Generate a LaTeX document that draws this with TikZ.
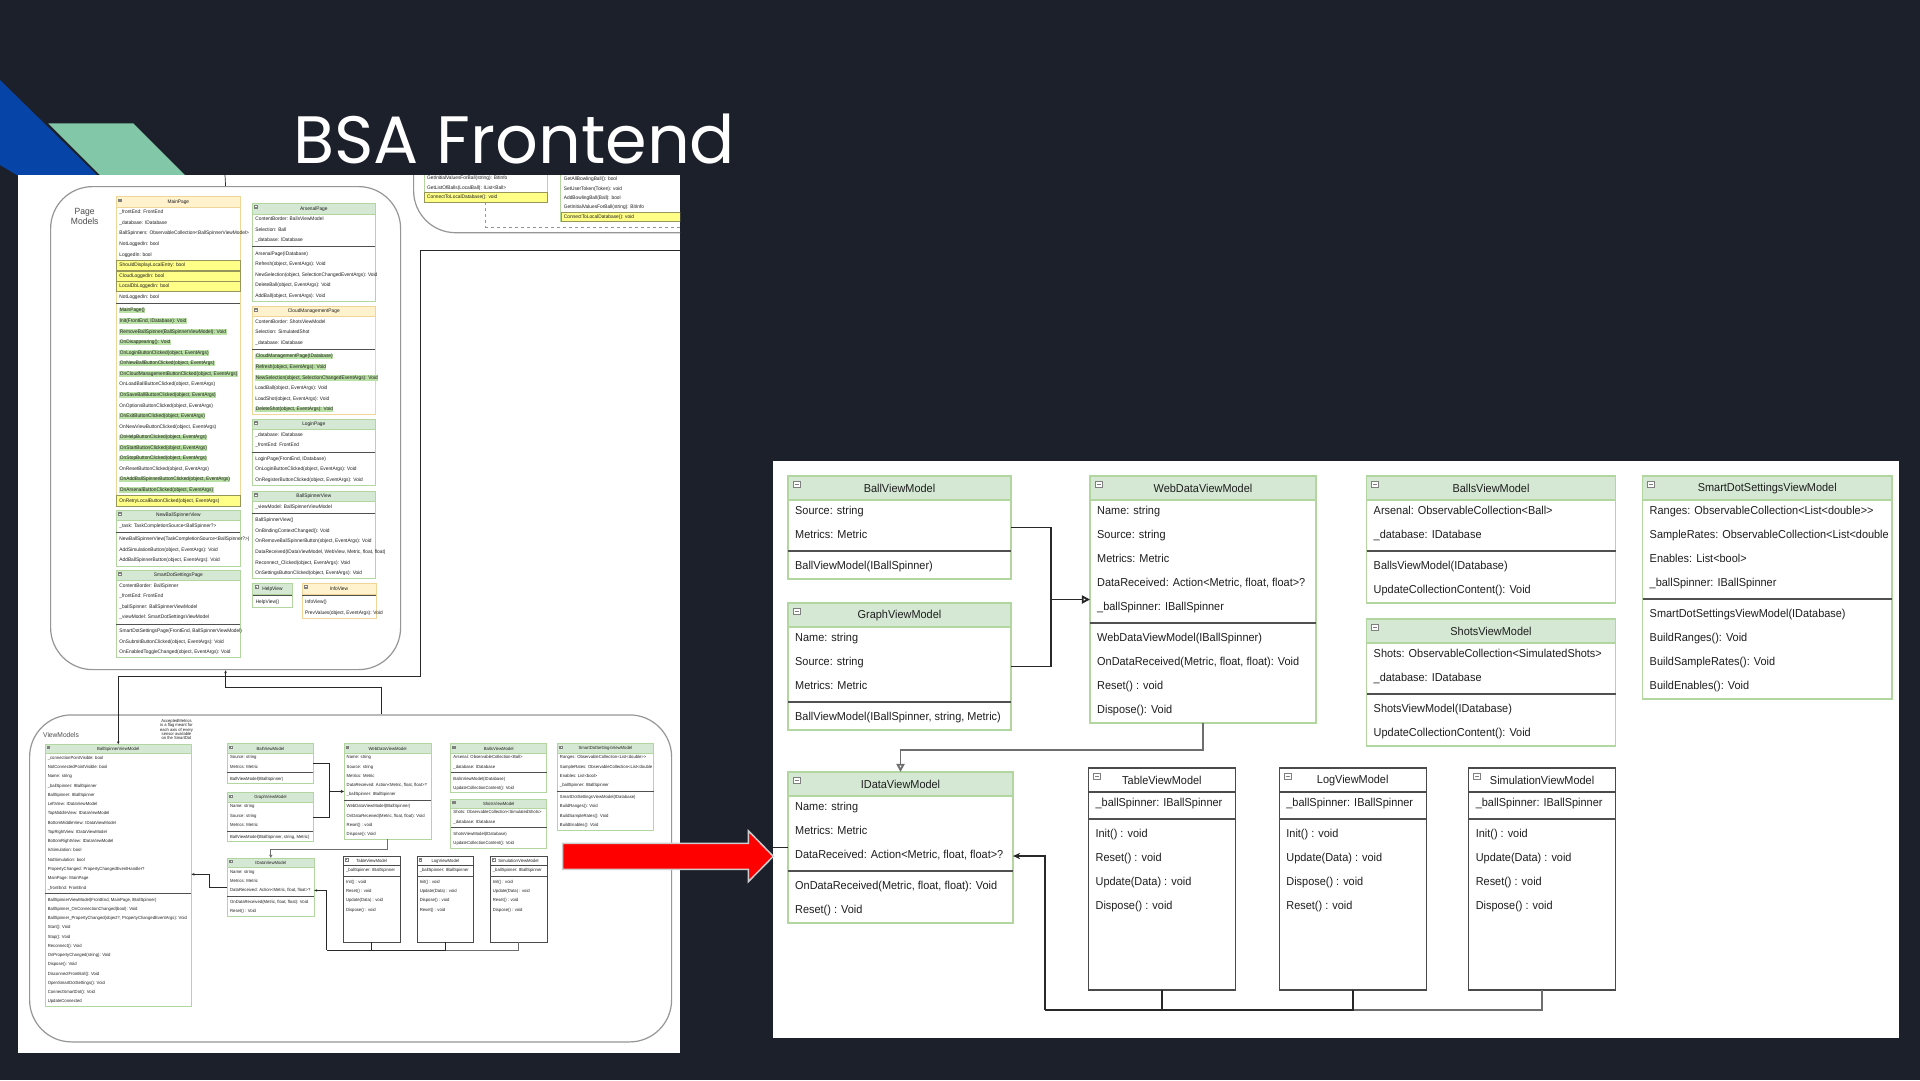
\documentclass[tikz,border=0pt]{standalone}
\usepackage{fontspec}
\newfontfamily\umlfont[FakeStretch=0.95]{Liberation Sans}
\newfontfamily\slidefont{Poppins}
\usepackage{tikz}
\usetikzlibrary{arrows.meta, positioning}

\definecolor{slidebg}{RGB}{28,32,42}
\definecolor{deckblue}{RGB}{6,68,168}
\definecolor{deckmint}{RGB}{130,199,167}
\definecolor{hdgreen}{HTML}{D5E8D4}
\definecolor{frgreen}{RGB}{178,214,160}
\definecolor{hdtan}{HTML}{FFF2CC}
\definecolor{frtan}{RGB}{240,214,150}
\definecolor{frgray}{RGB}{74,74,74}
\definecolor{hlgreen}{HTML}{B9E0A5}
\definecolor{hlyellow}{HTML}{FFFF88}
\definecolor{yedge}{RGB}{150,150,90}
\definecolor{sepgray}{RGB}{80,80,80}
\definecolor{ink}{RGB}{30,30,30}
\definecolor{linkdark}{RGB}{40,40,40}
\definecolor{linkgray}{RGB}{110,110,110}
\definecolor{groupgray}{RGB}{150,150,150}
\definecolor{arrowedge}{RGB}{205,205,205}

% line widths (changed inside the small overview)
\newcommand{\lwA}{1.3}
\newcommand{\lwB}{2}
\newcommand{\lwC}{1.8}
\newcommand{\lwD}{0.8}

\tikzset{
  frame/.style={inner sep=0pt, outer sep=0pt, line width=\lwA pt},
  head green/.style={fill=hdgreen, draw=frgreen},
  head tan/.style={fill=hdtan, draw=frtan},
  head plain/.style={fill=white, draw=frgray},
  title/.style={font=\umlfont\fontsize{11.5}{13}\selectfont, text=ink, inner sep=0pt},
  cell/.style={anchor=west, font=\umlfont\fontsize{11.5}{13}\selectfont, text=ink,
    inner sep=0pt, text height=8.3pt, text depth=2.4pt},
  yrow/.style={fill=hlyellow, draw=yedge, line width=\lwA pt},
  sepline/.style={draw=sepgray, line width=\lwB pt},
  icon/.style={draw=gray, fill=white, line width=\lwD pt},
  link/.style={draw=linkdark, line width=\lwC pt},
  faintlink/.style={draw=linkgray, line width=\lwC pt},
  hollowtip/.style={-{Triangle[open, length=0pt 4.5, width=0pt 4.5]}},
  solidtip/.style={-{Stealth[length=0pt 4, width=0pt 3.5]}},
  group/.style={draw=groupgray, rounded corners=42pt, line width=1.2pt, inner sep=0pt},
  panel/.style={fill=white, inner sep=0pt, outer sep=0pt},
}

% #1 name, #2 width, #3 head kind, #4 title, #5 fields, #6 operations, #7 height
\newcommand{\umlclass}[7]{%
  \path[head #3, line width=\lwA pt] (0,0) rectangle (#2,24);
  \node[frame, head #3, fill=none, minimum width=#2, minimum height=#7, anchor=north west] (#1) at (0,0) {};
  \draw[icon] (5,5) rectangle (12,11) (6.5,8) -- (10.5,8);
  \node[title] (#1-t) at ({#2/2},12.5) {#4};
  \gdef\nattr{0}%
  \def\tmplist{#5}%
  \ifx\tmplist\empty\else
    \foreach \kind/\txt [count=\idx] in {#5} {
      \if y\kind \draw[yrow] (1,{24*\idx+0.5}) rectangle ({#2-1},{24*\idx+23.5}); \fi
      \if g\kind \node[cell, fill=hlgreen, inner sep=1pt] (#1-a\idx) at (7,{24*\idx+12}) {\txt};
      \else \node[cell] (#1-a\idx) at (7,{24*\idx+12}) {\txt}; \fi
      \xdef\nattr{\idx}
    }
  \fi
  \pgfmathsetmacro\sepy{24*\nattr+27}
  \draw[sepline] (0,\sepy) -- (#2,\sepy);
  \def\tmplist{#6}%
  \ifx\tmplist\empty\else
    \foreach \kind/\txt [count=\idx] in {#6} {
      \if y\kind \draw[yrow] (1,{\sepy+24*\idx-19.5}) rectangle ({#2-1},{\sepy+24*\idx+3.5}); \fi
      \if g\kind \node[cell, fill=hlgreen, inner sep=1pt] (#1-o\idx) at (7,{\sepy+24*\idx-8}) {\txt};
      \else \node[cell] (#1-o\idx) at (7,{\sepy+24*\idx-8}) {\txt}; \fi
    }
  \fi
}

% the view model classes, drawn full size and again in the overview
\newcommand{\vmclasses}[1]{%
  \begin{scope}[shift={(788,476)}]
    \umlclass{#1ball}{223}{green}{BallViewModel}{n/Source: string, n/Metrics: Metric}{n/BallViewModel(IBallSpinner)}{103}
  \end{scope}
  \begin{scope}[shift={(788,603)}]
    \umlclass{#1graph}{223}{green}{GraphViewModel}{n/Name: string, n/Source: string, n/Metrics: Metric}{n/{BallViewModel(IBallSpinner, string, Metric)}}{127}
  \end{scope}
  \begin{scope}[shift={(1090,476)}]
    \umlclass{#1webdata}{226}{green}{WebDataViewModel}{n/Name: string, n/Source: string, n/Metrics: Metric,
      n/{DataReceived: Action<Metric, float, float>?}, n/\_ballSpinner: IBallSpinner}{n/WebDataViewModel(IBallSpinner),
      n/{OnDataReceived(Metric, float, float): Void}, n/Reset() : void, n/Dispose(): Void}{247}
  \end{scope}
  \begin{scope}[shift={(1366.5,476)}]
    \umlclass{#1balls}{249}{green}{BallsViewModel}{n/Arsenal: ObservableCollection<Ball>, n/\_database: IDatabase}{n/BallsViewModel(IDatabase), n/UpdateCollectionContent(): Void}{127}
  \end{scope}
  \begin{scope}[shift={(1366.5,619)}]
    \umlclass{#1shots}{249}{green}{ShotsViewModel}{n/Shots: ObservableCollection<SimulatedShots>, n/\_database: IDatabase}{n/ShotsViewModel(IDatabase), n/UpdateCollectionContent(): Void}{127}
  \end{scope}
  \begin{scope}[shift={(1642.5,476)}]
    \umlclass{#1smartdot}{249.5}{green}{SmartDotSettingsViewModel}{n/Ranges: ObservableCollection<List<double>{}>, n/SampleRates: ObservableCollection<List<double,
      n/Enables: List<bool>, n/\_ballSpinner: IBallSpinner}{n/SmartDotSettingsViewModel(IDatabase), n/BuildRanges(): Void,
      n/BuildSampleRates(): Void, n/BuildEnables(): Void}{223}
  \end{scope}
  \begin{scope}[shift={(788,772)}]
    \umlclass{#1idata}{225}{green}{IDataViewModel}{n/Name: string, n/Metrics: Metric, n/{DataReceived: Action<Metric, float, float>?}}{n/{OnDataReceived(Metric, float, float): Void}, n/Reset() : Void}{151}
  \end{scope}
  \begin{scope}[shift={(1088.4,768)}]
    \umlclass{#1table}{147}{plain}{TableViewModel}{n/\_ballSpinner: IBallSpinner}{n/Init() : void, n/Reset() : void, n/Update(Data) : void, n/Dispose() : void}{222}
  \end{scope}
  \begin{scope}[shift={(1279.2,768)}]
    \umlclass{#1log}{147}{plain}{LogViewModel}{n/\_ballSpinner: IBallSpinner}{n/Init() : void, n/Update(Data) : void, n/Dispose() : void, n/Reset() : void}{222}
  \end{scope}
  \begin{scope}[shift={(1468.6,768)}]
    \umlclass{#1sim}{147}{plain}{SimulationViewModel}{n/\_ballSpinner: IBallSpinner}{n/Init() : void, n/Update(Data) : void, n/Reset() : void, n/Dispose() : void}{222}
  \end{scope}
  % connectors
  \coordinate (#1join) at (1051,599.5);
  \draw[link] (#1ball.east) -| (#1join) |- (#1graph.east);
  \draw[link, hollowtip] (#1join) -- (#1webdata.west);
  \coordinate (#1bend) at (900.5,750);
  \draw[faintlink, hollowtip] (#1webdata.south) |- (#1bend) -- (#1idata.north);
  \coordinate (#1bus) at (1045,1010);
  \draw[faintlink] (#1sim.south) |- (#1bus);
  \draw[link] (#1log.south) |- (#1bus);
  \draw[link] (#1table.south) |- (#1bus);
  \draw[link, solidtip] (#1bus) |- (#1idata.east |- #1idata-a3);
}

\begin{document}
\begin{tikzpicture}[x=1pt, y=-1pt, transform shape]
\useasboundingbox (0,0) rectangle (1920,1080);
\fill[slidebg] (0,0) rectangle (1920,1080);
% corner decoration
\fill[deckblue] (0,80) -- (100,178) -- (22,178) -- (0,165) -- cycle;
\fill[deckmint] (48.3,123.3) -- (133.3,123.3) -- (188,178) -- (103,178) -- cycle;
\node[anchor=base west, inner sep=0pt, text depth=0pt, text=white, font=\slidefont\fontsize{67}{72}\selectfont] (slidetitle) at (293,163) {BSA Frontend};

% overview of the whole diagram
\node[panel, minimum width=662, minimum height=878, anchor=north west] (lpanel) at (18,175) {};
\begin{scope}
  \clip (18,175) rectangle (680,1053);
  \renewcommand{\lwA}{0.6}\renewcommand{\lwB}{0.9}\renewcommand{\lwC}{0.7}\renewcommand{\lwD}{0.3}
  % database group, cut off at the top
  \node[group, minimum width=500, minimum height=200, anchor=south west] (dbg) at (413,233.3) {};
  \begin{scope}[shift={(424,202.3)}, scale=0.44]
    \node[frame, head green, fill=none, minimum width=281, minimum height=80, anchor=south west] (dbA) at (0,0) {};
    \draw[yrow] (1,-22) rectangle (280,-1);
    \foreach \txt [count=\idx] in {{GetInitialValuesForBall(string): BitInfo}, {GetListOfBalls(LocalBall): IList<Ball>}, {ConnectToLocalDatabase(): void}}
      \node[cell] (dbA-\idx) at (7,{-77+22*\idx}) {\txt};
  \end{scope}
  \begin{scope}[shift={(560.7,221.7)}, scale=0.44]
    \node[frame, head green, fill=none, minimum width=290, minimum height=125, anchor=south west] (dbB) at (0,0) {};
    \draw[yrow] (1,-21) rectangle (289,-1);
    \foreach \txt [count=\idx] in {{GetAllBowlingBall(): bool}, {SetUserToken(Token): void}, {AddBowlingBall(Ball): bool}, {GetInitialValuesForBall(string): BitInfo}, {ConnectToLocalDatabase(): void}}
      \node[cell] (dbB-\idx) at (7,{-117+21.2*\idx}) {\txt};
  \end{scope}
  \coordinate (dbDash) at (680,227.3);
  \draw[draw=groupgray, line width=0.7pt, dashed] (dbA.south) |- (dbDash);

  % page models
  \node[group, minimum width=350, minimum height=483, anchor=north west] (pmg) at (50,186) {};
  \node[font=\umlfont\fontsize{9}{9.5}\selectfont, text=ink!80, align=center, inner sep=0pt] (pmlabel) at (84.7,216.5) {Page\\Models};
  \begin{scope}[shift={(116.3,196.7)}, scale=0.44]
    \umlclass{mainpage}{282}{tan}{MainPage}{n/\_frontEnd: FrontEnd, n/\_database: IDatabase,
      n/BallSpinners: ObservableCollection<BallSpinnerViewModel>, n/NotLoggedIn: bool, n/LoggedIn: bool,
      y/ShouldDisplayLocalEntry: bool, y/CloudLoggedIn: bool, y/LocalDbLoggedIn: bool, n/NotLoggedIn: bool}{g/MainPage(),
      g/{Init(FrontEnd, IDatabase): Void}, g/RemoveBallSpinner(BallSpinnerViewModel): Void, g/OnDisappearing(): Void,
      g/{OnLoginButtonClicked(object, EventArgs)}, g/{OnNewBallButtonClicked(object, EventArgs)},
      g/{OnCloudManagementButtonClicked(object, EventArgs)}, n/{OnLoadBallButtonClicked(object, EventArgs)},
      g/{OnSaveBallButtonClicked(object, EventArgs)}, n/{OnOptionsButtonClicked(object, EventArgs)},
      g/{OnExitButtonClicked(object, EventArgs)}, n/{OnNewViewButtonClicked(object, EventArgs)},
      g/{OnHelpButtonClicked(object, EventArgs)}, g/{OnStartButtonClicked(object, EventArgs)},
      g/{OnStopButtonClicked(object, EventArgs)}, n/{OnResetButtonClicked(object, EventArgs)},
      g/{OnAddBallSpinnerButtonClicked(object, EventArgs)}, g/{OnArsenalButtonClicked(object, EventArgs)},
      y/{OnRetryLocalButtonClicked(object, EventArgs)}}{703}
  \end{scope}
  \begin{scope}[shift={(252.2,203.3)}, scale=0.44]
    \umlclass{arsenalpage}{280}{green}{ArsenalPage}{n/ContentBorder: BallsViewModel, n/Selection: Ball, n/\_database: IDatabase}{n/ArsenalPage(IDatabase),
      n/{Refresh(object, EventArgs): Void}, n/{NewSelection(object, SelectionChangedEventArgs): Void},
      n/{DeleteBall(object, EventArgs): Void}, n/{AddBall(object, EventArgs): Void}}{223}
  \end{scope}
  \begin{scope}[shift={(252.2,306)}, scale=0.44]
    \umlclass{cloudpage}{280}{tan}{CloudManagementPage}{n/ContentBorder: ShotsViewModel, n/Selection: SimulatedShot, n/\_database: IDatabase}{g/CloudManagementPage(IDatabase),
      g/{Refresh(object, EventArgs): Void}, g/{NewSelection(object, SelectionChangedEventArgs): Void},
      n/{LoadBall(object, EventArgs): Void}, n/{LoadShot(object, EventArgs): Void}, g/{DeleteShot(object, EventArgs): Void}}{247}
  \end{scope}
  \begin{scope}[shift={(252.2,419)}, scale=0.44]
    \umlclass{loginpage}{280}{green}{LoginPage}{n/\_database: IDatabase, n/\_frontEnd: FrontEnd}{n/{LoginPage(FrontEnd, IDatabase)},
      n/{OnLoginButtonClicked(object, EventArgs): Void}, n/{OnRegisterButtonClicked(object, EventArgs): Void}}{151}
  \end{scope}
  \begin{scope}[shift={(252.2,491)}, scale=0.44]
    \umlclass{spinnerview}{280}{green}{BallSpinnerView}{n/\_viewModel: BallSpinnerViewModel}{n/BallSpinnerView(),
      n/OnBindingContextChanged(): Void, n/{OnRemoveBallSpinnerButton(object, EventArgs): Void},
      n/{DataReceived(IDataViewModel, WebView, Metric, float, float)}, n/{Reconnect\_Clicked(object, EventArgs): Void},
      n/{OnSettingsButtonClicked(object, EventArgs): Void}}{199}
  \end{scope}
  \begin{scope}[shift={(116.3,510)}, scale=0.44]
    \umlclass{newspinner}{282}{green}{NewBallSpinnerView}{n/\_task: TaskCompletionSource<BallSpinner?>}{n/NewBallSpinnerView(TaskCompletionSource<BallSpinner?>),
      n/{AddSimulationButton(object, EventArgs): Void}, n/{AddBallSpinnerButton(object, EventArgs): Void}}{127}
  \end{scope}
  \begin{scope}[shift={(116.3,570)}, scale=0.44]
    \umlclass{smartdotpage}{282}{green}{SmartDotSettingsPage}{n/ContentBorder: BallSpinner, n/\_frontEnd: FrontEnd,
      n/\_ballSpinner: BallSpinnerViewModel, n/\_viewModel: SmartDotSettingsViewModel}{n/{SmartDotSettingsPage(FrontEnd, BallSpinnerViewModel)},
      n/{OnSubmitButtonClicked(object, EventArgs): Void}, n/{OnEnabledToggleChanged(object, EventArgs): Void}}{199}
  \end{scope}
  \begin{scope}[shift={(252.6,583.3)}, scale=0.44]
    \umlclass{helpview}{90}{green}{HelpView}{}{n/HelpView()}{55}
  \end{scope}
  \begin{scope}[shift={(302,583.3)}, scale=0.44]
    \umlclass{infoview}{168}{tan}{InfoView}{}{n/InfoView(), n/{PrevValues(object, EventArgs): Void}}{79}
  \end{scope}

  % view models
  \node[group, minimum width=642, minimum height=327, anchor=north west] (vmg) at (29,714.3) {};
  \node[anchor=west, font=\umlfont\fontsize{7}{8}\selectfont, text=ink!80, inner sep=0pt] (vmlabel) at (43,735) {ViewModels};
  \node[align=center, font=\umlfont\fontsize{4.3}{4.4}\selectfont, text=ink, inner sep=0pt] (metricnote) at (176.5,729.5)
    {AcceptedMetrics\\is a flag meant for\\each axis of every\\sensor available\\on the SmartDot};
  \begin{scope}[shift={(45,744.3)}, scale=0.386]
    \umlclass{bsvm}{379.5}{green}{BallSpinnerViewModel}{n/\_connectionPointVisible: bool, n/NotConnectedPointVisible: bool,
      n/Name: string, n/\_ballSpinner: IBallSpinner, n/BallSpinner: IBallSpinner, n/LeftView: IDataViewModel,
      n/TopMiddleView: IDataViewModel, n/BottomMiddleView: IDataViewModel, n/TopRightView: IDataViewModel,
      n/BottomRightView: IDataViewModel, n/IsSimulation: bool, n/NotSimulation: bool,
      n/PropertyChanged: PropertyChangedEventHandler?, n/MainPage: MainPage, n/\_frontEnd: FrontEnd}{n/{BallSpinnerViewModel(FrontEnd, MainPage, IBallSpinner)},
      n/BallSpinner\_OnConnectionChanged(bool): Void, n/{BallSpinner\_PropertyChanged(object?, PropertyChangedEventArgs): Void},
      n/Start(): Void, n/Stop(): Void, n/Reconnect(): Void, n/OnPropertyChanged(string): Void, n/Dispose(): Void,
      n/DisconnectFromBall(): Void, n/OpenSmartDotSettings(): Void, n/ConnectSmartDot(): Void, n/UpdateConnected}{679}
  \end{scope}
  \begin{scope}[shift={(-76.8,560)}, scale=0.386]
    \vmclasses{m}
  \end{scope}

  % overview connectors
  \coordinate (pmUp) at (225,175);
  \draw[link] (pmg.north) -- (pmUp);
  \coordinate (dbRight) at (680,250);
  \coordinate (dbTurn) at (420,676.7);
  \draw[link, -{Stealth[length=3pt, width=2.6pt]}] (dbRight) -| (dbTurn) -| (bsvm.north);
  \coordinate (vmTurn) at (381,687.3);
  \draw[link, -{Stealth[length=3pt, width=2.6pt]}] (vmTurn |- vmg.north) -- (vmTurn) -| (pmg.south);
  \coordinate (idTurn) at (209.4,874.3);
  \draw[link, -{Stealth[length=3pt, width=2.6pt]}] (midata.west) -| (idTurn) -- (idTurn -| bsvm.east);
\end{scope}

% zoomed view models
\node[panel, minimum width=1126, minimum height=577, anchor=north west] (rpanel) at (773,461) {};
\vmclasses{z}
\draw[link] (rpanel.west |- zidata.west) -- (zidata.west);

% red pointer
\draw[fill=red, draw=arrowedge, line width=1.5pt] (562.7,843.3) -- (748.3,843.3) -- (748.3,830.7) -- (773.3,856.3)
  -- (748.3,881.7) -- (748.3,869.3) -- (562.7,869.3) -- cycle;
\end{tikzpicture}
\end{document}
